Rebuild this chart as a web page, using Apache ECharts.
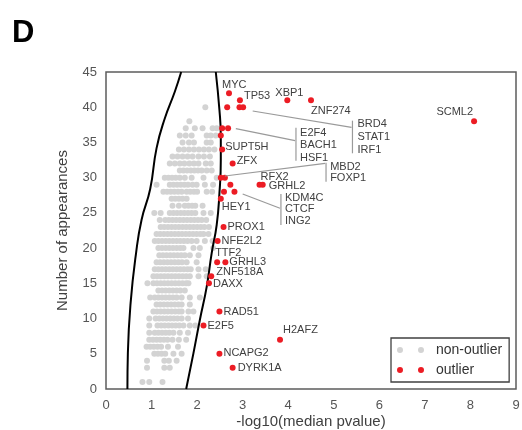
<!DOCTYPE html>
<html>
<head>
<meta charset="utf-8">
<script src="https://cdn.jsdelivr.net/npm/echarts@6/dist/echarts.min.js"></script>
<style>
  html, body { margin: 0; padding: 0; background: #fff; }
  #chart { width: 522px; height: 430px; }
</style>
</head>
<body>
<div id="chart"></div>
<script>
// ---- data -------------------------------------------------------------
// Outlier factors: -log10(median p value) and number of appearances
const outlierNames  = ['MYC', 'TP53', 'XBP1', 'ZNF274', 'SCML2', 'BRD4', 'STAT1', 'IRF1',
                       'E2F4', 'BACH1', 'HSF1', 'SUPT5H', 'ZFX', 'MBD2', 'FOXP1', 'RFX2',
                       'GRHL2', 'KDM4C', 'CTCF', 'ING2', 'HEY1', 'PROX1', 'NFE2L2', 'TTF2',
                       'GRHL3', 'ZNF518A', 'DAXX', 'RAD51', 'E2F5', 'H2AFZ', 'NCAPG2', 'DYRK1A'];
const outlierScores = [2.70, 2.94, 3.98, 4.50, 8.08, 2.66, 2.93, 3.01,
                       2.55, 2.68, 2.52, 2.55, 2.78, 2.52, 2.61, 3.37,
                       3.44, 2.73, 2.59, 2.82, 2.52, 2.58, 2.45, 2.44,
                       2.62, 2.31, 2.26, 2.49, 2.14, 3.82, 2.49, 2.78];
const outlierCounts = [42, 41, 41, 41, 38, 40, 40, 40,
                       37, 37, 36, 34, 32, 30, 30, 29,
                       29, 29, 28, 28, 27, 23, 21, 18,
                       18, 16, 15, 11, 9, 7, 5, 3];

// Non-outliers, one row per number of appearances
const greyCounts = [40, 38, 37, 36, 35, 34, 33, 32, 31, 30, 29, 28, 27, 26, 25, 24, 23,
                    22, 21, 20, 19, 18, 17, 16, 15, 14, 13, 12, 11, 10, 9, 8, 7, 6, 5, 4, 3, 1];
const greyScores = [
  [2.18],
  [1.83],
  [1.75, 1.95, 2.12, 2.34, 2.43],
  [1.62, 1.75, 1.88, 2.21, 2.30, 2.41],
  [1.68, 1.82, 1.93, 2.21, 2.30],
  [1.60, 1.71, 1.82, 1.93, 2.04, 2.15, 2.26, 2.38],
  [1.46, 1.57, 1.68, 1.79, 1.90, 2.03, 2.15, 2.28],
  [1.40, 1.51, 1.62, 1.72, 1.83, 1.93, 2.03, 2.19, 2.30],
  [1.62, 1.70, 1.78, 1.86, 1.94, 2.02, 2.10, 2.21, 2.32],
  [1.29, 1.37, 1.45, 1.53, 1.62, 1.73, 1.88, 2.14, 2.43],
  [1.11, 1.40, 1.48, 1.56, 1.64, 1.72, 1.80, 1.90, 1.99, 2.17, 2.35],
  [1.26, 1.34, 1.42, 1.50, 1.58, 1.66, 1.77, 1.85, 1.93, 2.00, 2.21, 2.33],
  [1.44, 1.52, 1.60, 1.68, 1.77],
  [1.46, 1.60, 1.73, 1.81, 1.89, 1.96, 2.12],
  [1.06, 1.20, 1.40, 1.48, 1.56, 1.64, 1.72, 1.80, 1.88, 1.96, 2.14, 2.30],
  [1.18, 1.30, 1.38, 1.46, 1.54, 1.62, 1.70, 1.78, 1.86, 1.94, 2.02, 2.10, 2.20],
  [1.20, 1.28, 1.36, 1.44, 1.52, 1.60, 1.68, 1.76, 1.84, 1.92, 2.00, 2.08, 2.16, 2.26],
  [1.11, 1.19, 1.27, 1.35, 1.43, 1.51, 1.59, 1.67, 1.75, 1.83, 1.91, 1.99, 2.07, 2.14, 2.25],
  [1.07, 1.15, 1.23, 1.31, 1.39, 1.47, 1.55, 1.63, 1.71, 1.79, 1.88, 1.99, 2.17, 2.34],
  [1.15, 1.23, 1.31, 1.39, 1.47, 1.55, 1.63, 1.70, 1.92, 2.06, 2.35],
  [1.17, 1.25, 1.33, 1.41, 1.49, 1.57, 1.65, 1.73, 1.84, 2.03],
  [1.11, 1.19, 1.27, 1.35, 1.43, 1.51, 1.59, 1.67, 1.77, 1.99],
  [1.07, 1.15, 1.23, 1.31, 1.39, 1.47, 1.55, 1.63, 1.71, 1.79, 1.86, 2.03, 2.19],
  [1.04, 1.12, 1.20, 1.28, 1.36, 1.44, 1.52, 1.60, 1.68, 1.76, 1.84, 2.03, 2.21],
  [0.91, 1.04, 1.12, 1.20, 1.28, 1.36, 1.44, 1.52, 1.60, 1.68, 1.76, 1.81],
  [1.15, 1.23, 1.31, 1.39, 1.47, 1.55, 1.63, 1.73],
  [0.97, 1.07, 1.15, 1.23, 1.31, 1.39, 1.47, 1.55, 1.66, 1.84, 2.06],
  [1.11, 1.19, 1.27, 1.35, 1.43, 1.51, 1.59, 1.66, 1.84],
  [1.04, 1.12, 1.20, 1.28, 1.36, 1.44, 1.52, 1.60, 1.66, 1.81, 1.92],
  [0.95, 1.09, 1.17, 1.25, 1.33, 1.41, 1.49, 1.57, 1.66, 1.80],
  [0.95, 1.13, 1.21, 1.29, 1.37, 1.45, 1.53, 1.61, 1.70, 1.84, 1.96],
  [0.95, 1.07, 1.15, 1.23, 1.31, 1.39, 1.48, 1.62, 1.80],
  [0.95, 1.03, 1.11, 1.19, 1.27, 1.35, 1.46, 1.60, 1.76],
  [0.89, 0.97, 1.05, 1.13, 1.21, 1.36, 1.58],
  [1.06, 1.14, 1.22, 1.30, 1.48, 1.66],
  [0.90, 1.28, 1.38, 1.55],
  [0.90, 1.28, 1.40],
  [0.80, 0.95, 1.24]
];

// Outlier boundary (ellipse arcs), as [score, appearances] pairs
const boundaryRight = [[2.41, 45.0], [2.49, 39.6], [2.52, 35.8], [2.52, 32.5], [2.49, 27.8],
                       [2.43, 23.3], [2.32, 19.3], [2.21, 14.5], [2.06, 9.8], [1.92, 5.1], [1.76, 0]];
const boundaryLeft  = [[1.65, 45.0], [1.51, 42.2], [1.29, 38.4], [1.11, 34.2], [0.97, 28.4],
                       [0.78, 24.0], [0.66, 19.3], [0.54, 12.2], [0.48, 5.1], [0.47, 0]];

// Axis ticks
const xTicks = [0, 1, 2, 3, 4, 5, 6, 7, 8, 9];
const yTicks = [0, 5, 10, 15, 20, 25, 30, 35, 40, 45];

// ---- layout / style ----------------------------------------------------
const FONT = '"Liberation Sans", Arial, sans-serif';
const GREY = '#d3d3d3';
const RED = '#ec1c24';
const TEXT = '#404040';
const DOT = 6;

// label offsets (px) from each annotated point's centre: [dx, dy, align]
const labelOffsets = {
  MYC: [-7, -8, 'left'], TP53: [4, -4, 'left'], XBP1: [-12, -7, 'left'],
  ZNF274: [0, 11, 'left'], SCML2: [-1, -9, 'right'], SUPT5H: [3, -3, 'left'],
  ZFX: [4, -3, 'left'], RFX2: [1, -8, 'left'], GRHL2: [6, 1, 'left'],
  HEY1: [1, 8, 'left'], PROX1: [4, 0, 'left'], NFE2L2: [4, 0, 'left'],
  TTF2: [-2, -9, 'left'], GRHL3: [4, 0, 'left'], ZNF518A: [5, -4, 'left'],
  DAXX: [4, 1, 'left'], RAD51: [4, 0, 'left'], E2F5: [4, 0, 'left'],
  H2AFZ: [3, -10, 'left'], NCAPG2: [4, -1, 'left'], DYRK1A: [5, 0, 'left']
};

// grouped callouts: leader line, bracket and stacked names (data coordinates)
const callouts = [
  { names: ['BRD4', 'STAT1', 'IRF1'], from: [3.22, 39.46], to: [5.39, 37.15],
    bar: [5.41, 38.09, 33.46], text: [5.52, 37.58], step: 13 },
  { names: ['E2F4', 'BACH1', 'HSF1'], from: [2.85, 36.95], to: [4.15, 35.25],
    bar: [4.17, 37.09, 32.41], text: [4.26, 36.39], step: 12.6 },
  { names: ['MBD2', 'FOXP1'], from: [2.61, 30.24], to: [4.81, 32.04],
    bar: [4.83, 32.13, 29.43], text: [4.92, 31.52], step: 11.5 },
  { names: ['KDM4C', 'CTCF', 'ING2'], from: [3.00, 27.68], to: [3.82, 25.65],
    bar: [3.84, 27.68, 23.28], text: [3.93, 27.16], step: 11.4 }
];

// ---- build series data --------------------------------------------------
const greyData = [];
greyCounts.forEach((n, i) => greyScores[i].forEach(x => greyData.push([x, n])));

const redData = outlierNames.map((name, i) => {
  const off = labelOffsets[name];
  const item = { name: name, value: [outlierScores[i], outlierCounts[i]] };
  if (off) {
    item.label = {
      show: true, formatter: name,
      position: [DOT / 2 + off[0], DOT / 2 + off[1]],
      align: off[2], verticalAlign: 'middle'
    };
  }
  return item;
});

// legend marker: two dots side by side
const twoDots = 'path://M0,3a3,3 0 1,0 6,0a3,3 0 1,0 -6,0z M21,3a3,3 0 1,0 6,0a3,3 0 1,0 -6,0z';

const chart = echarts.init(document.getElementById('chart'));

chart.setOption({
  animation: false,
  backgroundColor: '#fff',
  grid: {
    left: 106, top: 72, right: 6, bottom: 41,
    outerBoundsMode: 'none', containLabel: false,
    show: true, borderColor: '#5c5c5c', borderWidth: 1.5, backgroundColor: 'transparent'
  },
  xAxis: {
    type: 'value', min: xTicks[0], max: xTicks[xTicks.length - 1], interval: xTicks[1] - xTicks[0],
    name: '-log10(median pvalue)', nameLocation: 'middle', nameGap: 25, nameMoveOverlap: false,
    nameTextStyle: { fontFamily: FONT, fontSize: 15, color: TEXT },
    axisLine: { show: false }, axisTick: { show: false }, splitLine: { show: false },
    axisLabel: { fontFamily: FONT, fontSize: 13, color: '#555', margin: 10 }
  },
  yAxis: {
    type: 'value', min: yTicks[0], max: yTicks[yTicks.length - 1], interval: yTicks[1] - yTicks[0],
    name: 'Number of appearances', nameLocation: 'middle', nameGap: 36, nameRotate: 90,
    nameTextStyle: { fontFamily: FONT, fontSize: 15, color: TEXT },
    axisLine: { show: false }, axisTick: { show: false }, splitLine: { show: false },
    axisLabel: { fontFamily: FONT, fontSize: 13, color: '#555', margin: 9 }
  },
  legend: {
    orient: 'vertical', left: 391, top: 338,
    padding: [5, 7, 5, 6], itemGap: 6, itemWidth: 27, itemHeight: 6,
    borderColor: '#404040', borderWidth: 1.3, backgroundColor: '#fff',
    textStyle: { fontFamily: FONT, fontSize: 14, color: '#333', padding: [0, 0, 0, 7] },
    data: [{ name: 'non-outlier', icon: twoDots }, { name: 'outlier', icon: twoDots }]
  },
  series: [
    {
      name: 'non-outlier', type: 'scatter', symbolSize: DOT, z: 2,
      itemStyle: { color: GREY, opacity: 1 }, data: greyData, silent: true
    },
    {
      name: 'boundary-left', type: 'line', data: boundaryLeft, smooth: true, showSymbol: false,
      lineStyle: { color: '#000', width: 2 }, z: 3, silent: true
    },
    {
      name: 'boundary-right', type: 'line', data: boundaryRight, smooth: true, showSymbol: false,
      lineStyle: { color: '#000', width: 2 }, z: 3, silent: true
    },
    {
      name: 'outlier', type: 'scatter', symbolSize: DOT, z: 4,
      itemStyle: { color: RED, opacity: 1 },
      label: { show: false, fontFamily: FONT, fontSize: 11, color: TEXT },
      labelLayout: { hideOverlap: false },
      data: redData, silent: true
    }
  ]
});

// panel letter, callout leaders and stacked names
const gfx = [{
  type: 'text', left: 12, top: 18,
  style: { text: 'D', fontFamily: FONT, fontSize: 31, fontWeight: 'bold', fill: '#000' }
}];
callouts.forEach(c => {
  const p = v => chart.convertToPixel({ gridIndex: 0 }, v);
  const a = p(c.from), b = p(c.to);
  const t = p([c.bar[0], c.bar[1]]), u = p([c.bar[0], c.bar[2]]);
  const s = p(c.text);
  const line = { stroke: '#9a9a9a', lineWidth: 1.2 };
  gfx.push({ type: 'line', shape: { x1: a[0], y1: a[1], x2: b[0], y2: b[1] }, style: line, z: 5 });
  gfx.push({ type: 'line', shape: { x1: t[0], y1: t[1], x2: u[0], y2: u[1] }, style: line, z: 5 });
  c.names.forEach((nm, i) => {
    gfx.push({
      type: 'text', x: s[0], y: s[1] + i * c.step, z: 6,
      style: { text: nm, fontFamily: FONT, fontSize: 11, fill: TEXT,
               textAlign: 'left', textVerticalAlign: 'middle' }
    });
  });
});
chart.setOption({ graphic: gfx });
</script>
</body>
</html>
